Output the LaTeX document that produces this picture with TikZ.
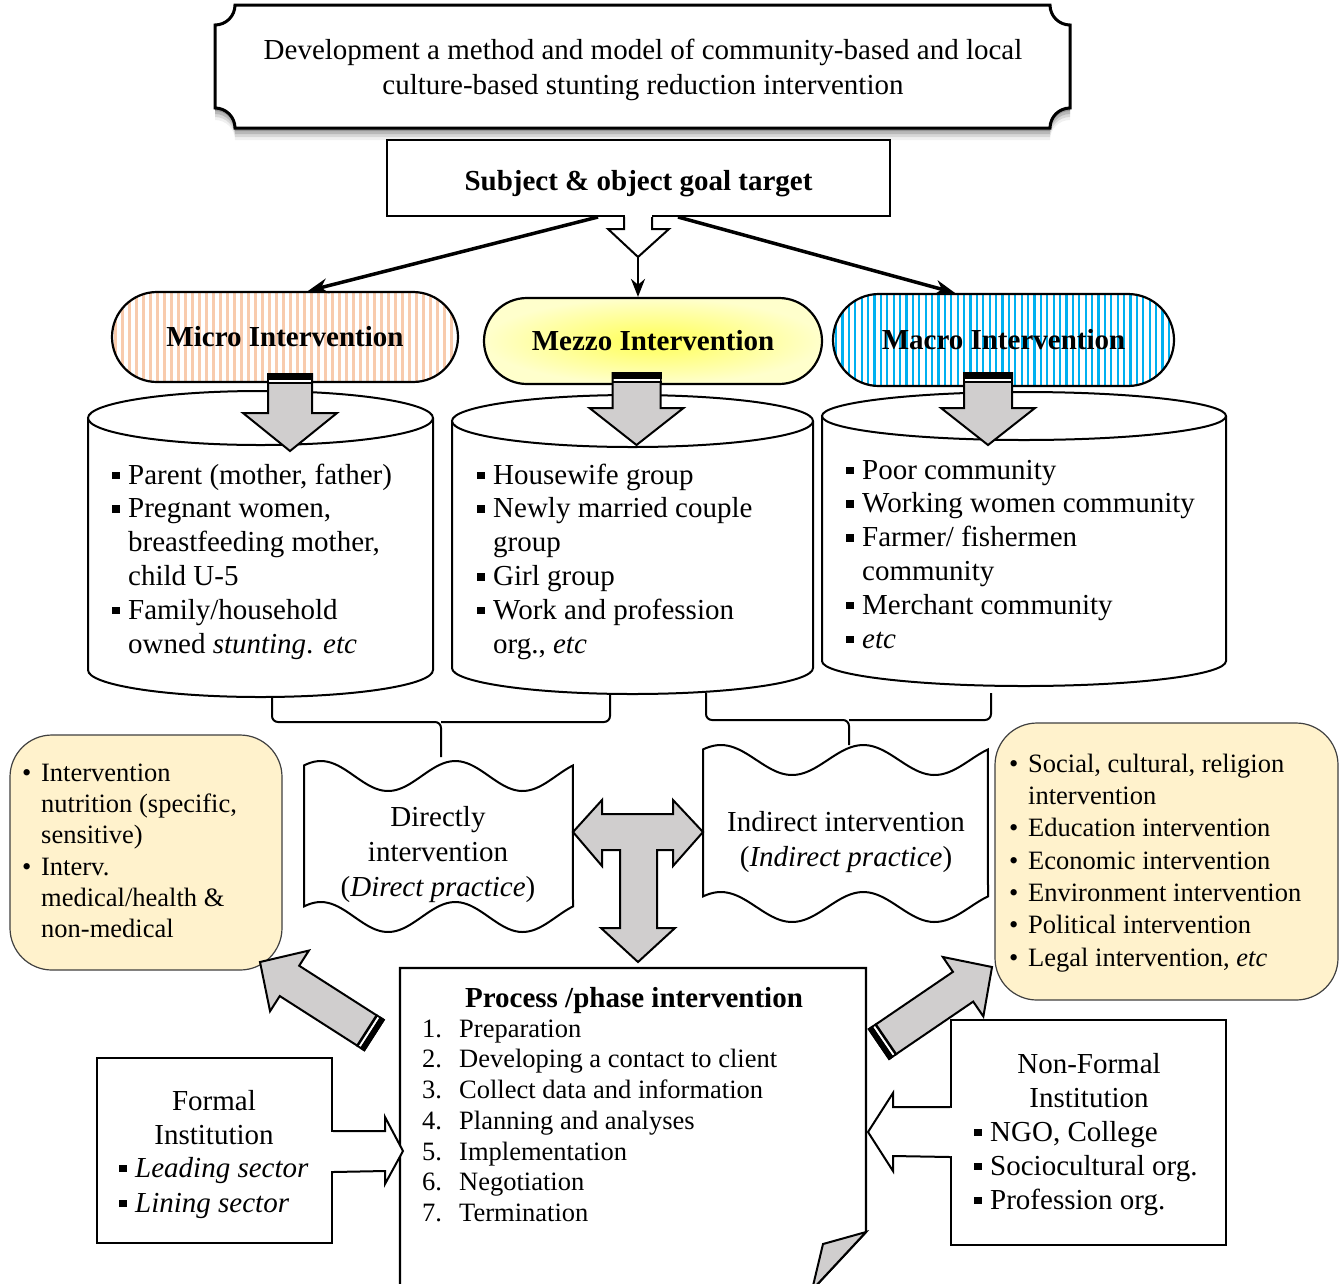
\documentclass[tikz,border=0pt]{standalone}
\usepackage{fontspec}
\setmainfont{Liberation Serif}
\usetikzlibrary{calc,arrows.meta}
\definecolor{peach}{HTML}{F8CBAD}
\definecolor{skyb}{HTML}{00B0F0}
\definecolor{cream}{HTML}{FFF2CC}
\definecolor{agray}{HTML}{D0CECE}
\definecolor{yelc}{HTML}{FFFF55}
\definecolor{yelo}{HTML}{FFFFCC}
\newcommand\fA{\fontsize{29}{34}\selectfont}
\newcommand\fB{\fontsize{26.5}{31.3}\selectfont}
\newcommand\sqb{\makebox[16pt][l]{\rule[5pt]{7.5pt}{7.5pt}}}
\newcommand\ind{\hspace*{16pt}}
\newcommand\rbul{\makebox[19pt][l]{\textbullet}}
\newcommand\rind{\hspace*{19pt}}
\newcommand\dnarrow[6]{%
 \filldraw[agray, draw=black, line width=2pt] ({#1-#5},#2) -- ({#1+#5},#2) -- ({#1+#5},#3) -- ({#1+#6},#3) -- (#1,#4) -- ({#1-#6},#3) -- ({#1-#5},#3) -- cycle;
 \fill[black] ({#1-#5-1},{#2-1}) rectangle ({#1+#5+1},{#2+6});
 \fill[white] ({#1-#5+1},{#2+6}) rectangle ({#1+#5-1},{#2+7.5});
 \fill[black] ({#1-#5-1},{#2+7.5}) rectangle ({#1+#5+1},{#2+10});
}
\newcommand\blockarrow[5]{%
 \coordinate (bah) at ($(#2)!#5!(#1)$);
 \filldraw[agray, draw=black, line width=2pt] ($(#1)!#3!90:(#2)$) -- ($(bah)!#3!90:(#2)$) -- ($(bah)!#4!90:(#2)$) -- (#2) -- ($(bah)!#4!-90:(#2)$) -- ($(bah)!#3!-90:(#2)$) -- ($(#1)!#3!-90:(#2)$) -- cycle;
 \coordinate (baa) at ($(#1)!-1pt!(#2)$);
 \coordinate (bab) at ($(#1)!5pt!(#2)$);
 \coordinate (bac) at ($(#1)!7pt!(#2)$);
 \coordinate (bad) at ($(#1)!9.5pt!(#2)$);
 \fill[black] ($(baa)!#3+1pt!90:(#2)$) -- ($(bab)!#3+1pt!90:(#2)$) -- ($(bab)!#3+1pt!-90:(#2)$) -- ($(baa)!#3+1pt!-90:(#2)$) -- cycle;
 \fill[white] ($(bab)!#3-1pt!90:(#2)$) -- ($(bac)!#3-1pt!90:(#2)$) -- ($(bac)!#3-1pt!-90:(#2)$) -- ($(bab)!#3-1pt!-90:(#2)$) -- cycle;
 \fill[black] ($(bac)!#3+1pt!90:(#2)$) -- ($(bad)!#3+1pt!90:(#2)$) -- ($(bad)!#3+1pt!-90:(#2)$) -- ($(bac)!#3+1pt!-90:(#2)$) -- cycle;
}
\begin{document}
\begin{tikzpicture}[x=1pt,y=-1pt,line join=miter,
  ln/.style={line width=2pt},
  stad/.style={draw, line width=2.2pt, font=\fA\bfseries},
  ybox/.style={draw=black!75, line width=1.2pt, fill=cream, rounded corners=42pt},
  txt/.style={inner sep=0pt, font=\fA},
  lst/.style={inner sep=0pt, anchor=north west, align=left},
  tip/.style={-{Stealth[length=20pt,width=15pt]}}]
\useasboundingbox (0,0) rectangle (1340,1283);
\fill[white] (0,0) rectangle (1340,1283);

% ---------- banner ----------
\foreach \s/\o in {12/0.06,9/0.10,6/0.14,3/0.18}{
\fill[black, opacity=\o, shift={(0,\s)}] (235,5) -- (1050,5) arc[start angle=180,end angle=90,radius=20] -- (1070,108) arc[start angle=270,end angle=180,radius=20] -- (235,128) arc[start angle=0,end angle=-90,radius=20] -- (215,25) arc[start angle=90,end angle=0,radius=20] -- cycle;}
\draw[line width=3pt, fill=white] (235,5) -- (1050,5) arc[start angle=180,end angle=90,radius=20] -- (1070,108) arc[start angle=270,end angle=180,radius=20] -- (235,128) arc[start angle=0,end angle=-90,radius=20] -- (215,25) arc[start angle=90,end angle=0,radius=20] -- cycle;
\node[txt, align=center, font=\fontsize{29}{35}\selectfont] (title) at (643,70) {Development a method and model of community-based and local\\culture-based stunting reduction intervention};

% ---------- subject ----------
\node[draw, ln, minimum width=503pt, minimum height=76pt] (subj) at (638.5,178) {};
\node[txt, font=\fA\bfseries] (subjt) at (638.5,184) {Subject \& object goal target};
\fill[white] ($(subj.south)+(-13.5,-3)$) rectangle ($(subj.south)+(13.5,3)$);
\draw[ln, fill=white] ($(subj.south)+(-14.5,0)$) -- ($(subj.south)+(-14.5,12)$) -- ($(subj.south)+(-30.5,12)$) -- ($(subj.south)+(-0.5,40)$) -- ($(subj.south)+(30.5,12)$) -- ($(subj.south)+(13.5,12)$) -- ($(subj.south)+(13.5,0)$);
\coordinate (forktip) at ($(subj.south)+(-0.5,40)$);

% ---------- stadiums ----------
\node[stad, minimum width=346pt, minimum height=90pt, rounded corners=45pt, fill=white,
  path picture={\foreach \i in {0,...,50}{\fill[peach, sharp corners] ([xshift={\i*7pt+2pt}]path picture bounding box.north west) rectangle ([xshift={\i*7pt+5pt}]path picture bounding box.south west);}}] (micro) at (285,337) {Micro Intervention};
\node[stad, minimum width=338pt, minimum height=86pt, rounded corners=43pt, inner color=yelc, outer color=yelo] (mezzo) at (653,341) {Mezzo Intervention};
\node[stad, minimum width=341pt, minimum height=92pt, rounded corners=46pt, fill=white,
  path picture={\foreach \i in {0,...,54}{\fill[skyb, sharp corners] ([xshift={\i*6.4pt+2pt}]path picture bounding box.north west) rectangle ([xshift={\i*6.4pt+4.2pt}]path picture bounding box.south west);}}] (macro) at (1003.5,340) {Macro Intervention};

\draw[line width=3.5pt, tip] ([xshift=-40.5pt]subj.south) -- ([xshift=23pt]micro.north);
\draw[line width=3.5pt, tip] ([xshift=39.5pt]subj.south) -- ([xshift=-48.5pt]macro.north);
\draw[line width=2.5pt, -{Stealth[length=18pt,width=14pt]}] (forktip) -- (forktip |- mezzo.north);

% ---------- cylinders ----------
\draw[ln, fill=white] (88,418) -- (88,670) arc[start angle=180,end angle=0,x radius=172.5,y radius=27] -- (433,418);
\draw[ln, fill=white] (260.5,418) ellipse[x radius=172.5,y radius=27];
\draw[ln, fill=white] (452,421) -- (452,668) arc[start angle=180,end angle=0,x radius=180.5,y radius=26] -- (813,421);
\draw[ln, fill=white] (632.5,421) ellipse[x radius=180.5,y radius=26];
\draw[ln, fill=white] (822,416) -- (822,661) arc[start angle=180,end angle=0,x radius=202,y radius=25] -- (1226,416);
\draw[ln, fill=white] (1024,416) ellipse[x radius=202,y radius=24];

\dnarrow{290}{374}{413}{451}{22}{47}
\dnarrow{636.5}{373}{408}{445}{24}{47}
\dnarrow{988}{373}{408}{445}{24}{47}

\node[lst, inner sep=0pt, font=\fontsize{29}{33.8}\selectfont] (micitems) at (112,460.3) {\strut\sqb Parent (mother, father)\\\sqb Pregnant women,\\\ind breastfeeding mother,\\\ind child U-5\\\sqb Family/household\\\ind owned \textit{stunting}. \textit{etc}};
\node[lst, inner sep=0pt, font=\fontsize{29}{33.8}\selectfont] (mezitems) at (477,460.3) {\strut\sqb Housewife group\\\sqb Newly married couple\\\ind group\\\sqb Girl group\\\sqb Work and profession\\\ind org., \textit{etc}};
\node[lst, inner sep=0pt, font=\fontsize{29}{33.8}\selectfont] (macitems) at (846,455.3) {\strut\sqb Poor community\\\sqb Working women community\\\sqb Farmer/ fishermen\\\ind community\\\sqb Merchant community\\\sqb \textit{etc}};

% ---------- braces ----------
\coordinate (brL) at (441,757);
\coordinate (brR) at (849,745);
\draw[ln, rounded corners=6pt] (272,697) -- (272,722) -- (441,722) -- (brL);
\draw[ln, rounded corners=6pt] (610,695) -- (610,722) -- (441,722);
\draw[ln, rounded corners=6pt] (706,693) -- (706,720) -- (849,720) -- (brR);
\draw[ln, rounded corners=6pt] (991,693) -- (991,720) -- (849,720);

% ---------- wave documents ----------
\draw[ln, fill=white] plot[domain=0:1, samples=80, smooth] ({304+269*\x},{776-15*sin(720*\x+45)}) -- plot[domain=1:0, samples=80, smooth] ({304+269*\x},{917-15*sin(720*\x+45)}) -- cycle;
\draw[ln, fill=white] plot[domain=0:1, samples=80, smooth] ({703+285*\x},{760-15*sin(720*\x+45)}) -- plot[domain=1:0, samples=80, smooth] ({703+285*\x},{907-15*sin(720*\x+45)}) -- cycle;
\node[txt, align=center, font=\fontsize{29}{35}\selectfont] (direct) at (438,854.5) {Directly\\intervention\\(\textit{Direct practice})};
\node[txt, align=center, font=\fontsize{29}{35}\selectfont] (indirect) at (846,842) {Indirect intervention\\(\textit{Indirect practice})};

% ---------- T arrow ----------
\filldraw[agray, draw=black, line width=2pt] (573,832) -- (602,800) -- (602,814) -- (673,814) -- (673,800) -- (703,832) -- (673,866) -- (673,850) -- (657,850) -- (657,928) -- (675,928) -- (638,962) -- (601,928) -- (620,928) -- (620,850) -- (602,850) -- (602,866) -- cycle;

% ---------- yellow boxes ----------
\node[ybox, minimum width=272pt, minimum height=235pt] (lbox) at (146,852.5) {};
\node[lst, inner sep=0pt, font=\fB] (litems) at (22,759.1) {\strut\rbul Intervention\\\rind nutrition (specific,\\\rind sensitive)\\\rbul Interv.\\\rind medical/health \&\\\rind non-medical};
\node[ybox, minimum width=343pt, minimum height=277pt] (rbox) at (1166.5,861.5) {};
\node[lst, inner sep=0pt, font=\fontsize{26.5}{32.3}\selectfont] (ritems) at (1009,749.4) {\strut\rbul Social, cultural, religion\\\rind intervention\\\rbul Education intervention\\\rbul Economic intervention\\\rbul Environment intervention\\\rbul Political intervention\\\rbul Legal intervention, \textit{etc}};

% ---------- process box ----------
\draw[line width=2.2pt, fill=white] (400,968) -- (866,968) -- (866,1232) -- (812,1290) -- (400,1290) -- cycle;
\filldraw[agray, draw=black, line width=2pt] (866,1232) -- (823,1244) -- (812,1290) -- cycle;
\node[txt, font=\fA\bfseries] (ptitle) at (634,1001) {Process /phase intervention};
\node[lst, inner sep=0pt, font=\fontsize{26.5}{30.7}\selectfont] (plist) at (422,1015.5) {\strut\makebox[37pt][l]{1.}Preparation\\\makebox[37pt][l]{2.}Developing a contact to client\\\makebox[37pt][l]{3.}Collect data and information\\\makebox[37pt][l]{4.}Planning and analyses\\\makebox[37pt][l]{5.}Implementation\\\makebox[37pt][l]{6.}Negotiation\\\makebox[37pt][l]{7.}Termination};

% ---------- institutions ----------
\node[draw, ln, minimum width=235pt, minimum height=185pt] (formal) at (214.5,1150.5) {};
\node[txt, align=center] (formalt) at (214,1118) {Formal\\Institution};
\node[lst, inner sep=0pt, font=\fontsize{29}{35}\selectfont] (formali) at (119,1152.5) {\strut\sqb\textit{Leading sector}\\\sqb\textit{Lining sector}};
\node[draw, ln, minimum width=275pt, minimum height=225pt] (nonformal) at (1088.5,1132.5) {};
\node[txt, align=center] (nonformalt) at (1089,1081) {Non-Formal\\Institution};
\node[lst, inner sep=0pt, font=\fontsize{29}{34}\selectfont] (nonformali) at (974,1117.2) {\strut\sqb NGO, College\\\sqb Sociocultural org.\\\sqb Profession org.};

% formal -> process
\fill[white] ($(formal.east)+(-3,-18.5)$) rectangle ($(formal.east)+(3,20.5)$);
\draw[ln, fill=white] ($(formal.east)+(0,-19.5)$) -- (385,1131) -- (385,1117) -- (403,1151) -- (385,1184) -- (385,1171) -- ($(formal.east)+(0,21.5)$);
% nonformal -> process
\fill[white] ($(nonformal.west)+(-3,-24.5)$) rectangle ($(nonformal.west)+(3,23.5)$);
\draw[ln, fill=white] ($(nonformal.west)+(0,-25.5)$) -- (893,1107) -- (893,1093) -- (868,1132) -- (893,1171) -- (893,1156) -- ($(nonformal.west)+(0,24.5)$);

% ---------- diagonal block arrows ----------
\coordinate (laT) at (374,1035);
\coordinate (laP) at (260,962);
\coordinate (raT) at (879,1044);
\coordinate (raP) at (992,967);
\blockarrow{laT}{laP}{18pt}{36pt}{35pt}
\blockarrow{raT}{raP}{18pt}{36pt}{35pt}
\end{tikzpicture}
\end{document}
